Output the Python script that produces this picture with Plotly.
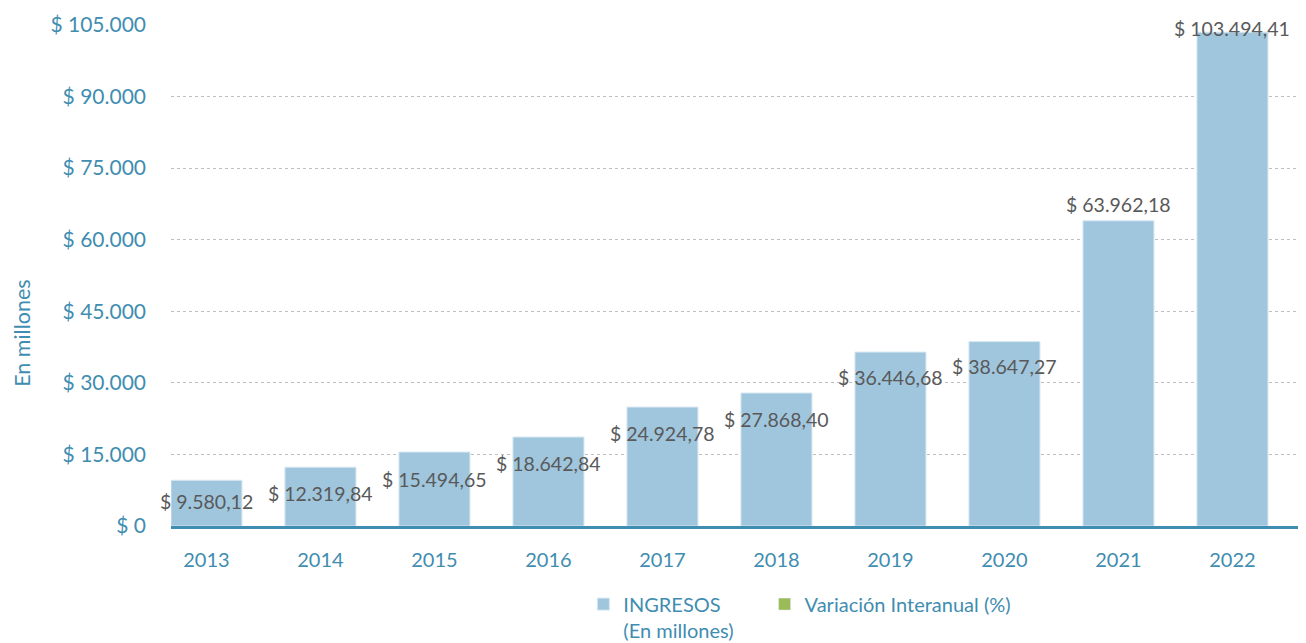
import plotly.graph_objects as go

# ---- data ----
years = ["2013", "2014", "2015", "2016", "2017", "2018", "2019", "2020", "2021", "2022"]
ingresos = [9580.12, 12319.84, 15494.65, 18642.84, 24924.78, 27868.40, 36446.68, 38647.27, 63962.18, 103494.41]
variacion = []  # series shown only in legend
y_ticks = [0, 15000, 30000, 45000, 60000, 75000, 90000, 105000]

# label placement (pixels below bar top, style only)
label_drop = [21, 26, 27, 26, 26, 26, 25, 25, -16, -4]

TEAL = "#3f8db0"
BAR = "#a0c6de"
GREEN = "#9bbb59"
FONT = "Lato"


def money(v, dec=2):
    s = f"{v:,.{dec}f}"
    s = s.replace(",", "X").replace(".", ",").replace("X", ".")
    return "$ " + s


xs = list(range(len(years)))

fig = go.Figure()
fig.add_trace(go.Bar(
    x=xs, y=ingresos, width=0.623,
    marker=dict(color=BAR, line=dict(color="#d6e7f1", width=1)),
    name="INGRESOS<br>(En millones)",
    legend="legend",
))
fig.add_trace(go.Bar(
    x=[None], y=[None],
    marker=dict(color=GREEN),
    name="Variación Interanual (%)",
    legend="legend2",
))

for i, v in enumerate(ingresos):
    fig.add_annotation(
        x=xs[i], y=v, text=money(v), showarrow=False,
        yanchor="middle", yshift=-label_drop[i],
        font=dict(family=FONT, size=19.5, color="#595959"),
    )

fig.add_annotation(
    xref="paper", yref="paper", x=-0.1315, y=0.385,
    text="En millones", textangle=-90, showarrow=False,
    xanchor="center", yanchor="middle",
    font=dict(family=FONT, size=21.5, color=TEAL),
)

legend_common = dict(
    orientation="h", yanchor="top", y=-0.117,
    font=dict(family=FONT, size=20, color=TEAL),
    valign="top", bgcolor="rgba(0,0,0,0)",
)

# page body has an 8px default margin, so the figure is sized to fill the rest
fig.update_layout(
    width=1298, height=635,
    margin=dict(l=163, r=0, t=17, b=117, autoexpand=False),
    paper_bgcolor="white", plot_bgcolor="white",
    showlegend=True,
    barmode="overlay",
    legend=dict(x=0.3633, xanchor="left", **legend_common),
    legend2=dict(x=0.523, xanchor="left", **legend_common),
    xaxis=dict(
        range=[-0.311, 9.645],
        tickmode="array", tickvals=xs, ticktext=years,
        showgrid=False, showline=True, linecolor=TEAL, linewidth=3,
        ticks="", ticklabelstandoff=14,
        tickfont=dict(family=FONT, size=20, color=TEAL),
        zeroline=False, automargin=False,
    ),
    yaxis=dict(
        range=[0, 105000],
        tickmode="array", tickvals=y_ticks, ticktext=[money(t, 0) for t in y_ticks],
        showgrid=True, gridcolor="#bfbfbf", gridwidth=1, griddash="dot",
        zeroline=False, showline=False, ticks="",
        ticklabelstandoff=24, automargin=False,
        tickfont=dict(family=FONT, size=21, color=TEAL),
    ),
)

fig.write_html("out.html")
